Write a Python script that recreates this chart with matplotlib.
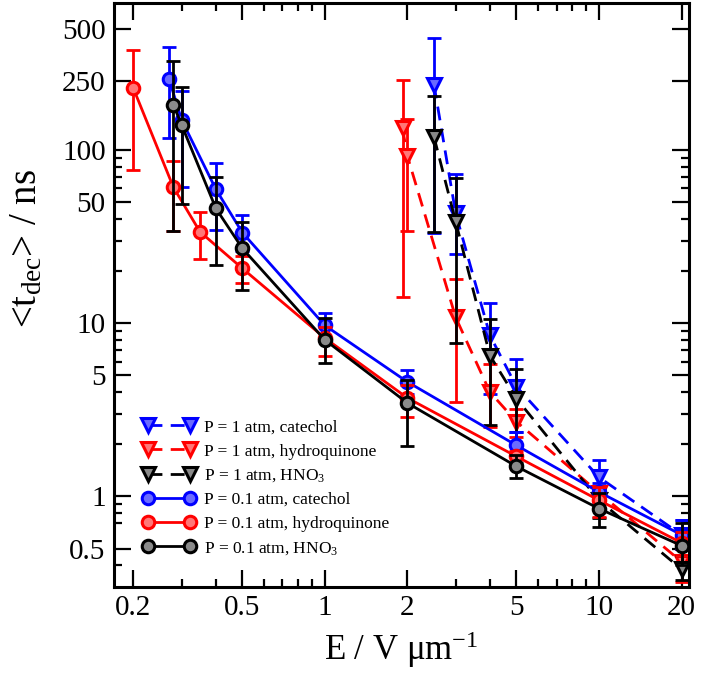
import numpy as np
import matplotlib
matplotlib.use("Agg")
import matplotlib.pyplot as plt
from matplotlib.ticker import FixedLocator, NullFormatter

plt.rcParams['font.family'] = ['Liberation Serif', 'DejaVu Serif']
plt.rcParams['mathtext.fontset'] = 'custom'
plt.rcParams['mathtext.rm'] = 'Liberation Serif'
plt.rcParams['mathtext.it'] = 'Liberation Serif:italic'

# P = 1 atm, catechol
x_cat1 = [2.5, 3.0, 4.0, 5.0, 10.0, 20.0]
y_cat1 = [238, 43, 8.5, 4.3, 1.29, 0.60]
hi_cat1 = [442, 73, 13.1, 6.25, 1.63, 0.73]
lo_cat1 = [33, 25, 3.9, 2.35, 1.05, 0.50]

# P = 1 atm, hydroquinone
x_hq1 = [1.92, 2.0, 3.0, 4.0, 5.0, 10.0, 20.0]
y_hq1 = [133, 92, 10.8, 4.0, 2.7, 1.05, 0.42]
hi_hq1 = [254, 151, 17.9, 5.85, 3.2, 1.15, 0.50]
lo_hq1 = [14.2, 34, 3.5, 2.5, 2.2, 0.85, 0.32]

# P = 1 atm, HNO3
x_hn1 = [2.5, 3.0, 4.0, 5.0, 10.0, 20.0]
y_hn1 = [119, 38.5, 6.5, 3.67, 0.95, 0.38]
hi_hn1 = [206, 68.6, 10.6, 5.47, 1.10, 0.45]
lo_hn1 = [33.4, 7.7, 2.57, 1.55, 0.75, 0.33]

# P = 0.1 atm, catechol
x_cat01 = [0.27, 0.30, 0.40, 0.50, 1.0, 2.0, 5.0, 10.0, 20.0]
y_cat01 = [256, 149, 59.3, 33.3, 9.7, 4.58, 1.97, 1.06, 0.60]
hi_cat01 = [395, 220, 83.8, 42.1, 11.4, 5.35, 2.35, 1.20, 0.73]
lo_cat01 = [117, 61, 34.5, 26, 8.2, 3.9, 1.7, 0.93, 0.50]

# P = 0.1 atm, hydroquinone
x_hq01 = [0.20, 0.28, 0.35, 0.50, 1.0, 2.0, 5.0, 10.0, 20.0]
y_hq01 = [227, 60.9, 33.7, 20.7, 8.2, 3.7, 1.7, 0.95, 0.54]
hi_hq01 = [378, 86.7, 44, 24.5, 9.5, 4.4, 1.84, 1.13, 0.62]
lo_hq01 = [76.6, 34, 23.4, 17, 6.5, 2.87, 1.45, 0.76, 0.45]

# P = 0.1 atm, HNO3
x_hn01 = [0.28, 0.30, 0.40, 0.50, 1.0, 2.0, 5.0, 10.0, 20.0]
y_hn01 = [182, 139.5, 46, 27, 8.0, 3.46, 1.49, 0.85, 0.52]
hi_hn01 = [328, 232, 70.2, 38.5, 10.7, 4.68, 1.73, 1.04, 0.70]
lo_hn01 = [34, 48.7, 21.6, 15.5, 5.9, 1.95, 1.27, 0.665, 0.40]

series = [
    (x_cat1, y_cat1, hi_cat1, lo_cat1, 'blue', 'v', '--', 'P = 1 atm, catechol'),
    (x_hq1, y_hq1, hi_hq1, lo_hq1, 'red', 'v', '--', 'P = 1 atm, hydroquinone'),
    (x_hn1, y_hn1, hi_hn1, lo_hn1, 'black', 'v', '--', 'P = 1 atm, HNO$_3$'),
    (x_cat01, y_cat01, hi_cat01, lo_cat01, 'blue', 'o', '-', 'P = 0.1 atm, catechol'),
    (x_hq01, y_hq01, hi_hq01, lo_hq01, 'red', 'o', '-', 'P = 0.1 atm, hydroquinone'),
    (x_hn01, y_hn01, hi_hn01, lo_hn01, 'black', 'o', '-', 'P = 0.1 atm, HNO$_3$'),
]
faces = {'blue': '#6b6bff', 'red': '#ff7777', 'black': '#8a8a8a'}

fig = plt.figure(figsize=(7.02, 6.84), dpi=100)
ax = fig.add_axes([114/702, 1-587/684, 575/702, 584/684])

for x, y, hi, lo, c, m, ls, lab in series:
    y = np.array(y); hi = np.array(hi); lo = np.array(lo)
    ax.errorbar(x, y, yerr=[y-lo, hi-y], fmt='none', ecolor=c, elinewidth=2,
                capsize=5, capthick=2)
    ax.plot(x, y, ls=ls, color=c, lw=2, marker=m, ms=9 if m == 'o' else 10,
            mfc=faces[c], mec=c, mew=2.2, label=lab,
            dashes=(5, 3) if ls == '--' else (None, None))

ax.set_xscale('log')
ax.set_yscale('log')
ax.set_xlim(0.170, 21.3)
ax.set_ylim(0.30, 705)

ax.xaxis.set_major_locator(FixedLocator([0.2, 0.5, 1, 2, 5, 10, 20]))
ax.xaxis.set_minor_locator(FixedLocator([0.3, 0.4, 0.6, 0.7, 0.8, 0.9, 3, 4, 6, 7, 8, 9]))
ax.set_xticklabels(['0.2', '0.5', '1', '2', '5', '10', '20'])
ax.xaxis.set_minor_formatter(NullFormatter())
ax.yaxis.set_major_locator(FixedLocator([0.5, 1, 5, 10, 50, 100, 250, 500]))
ax.yaxis.set_minor_locator(FixedLocator([0.4, 0.7, 0.8, 0.9, 2, 3, 4, 6, 7, 8, 9,
                                         20, 30, 40, 60, 70, 80, 90]))
ax.set_yticklabels(['0.5', '1', '5', '10', '50', '100', '250', '500'])
ax.yaxis.set_minor_formatter(NullFormatter())

ax.tick_params(which='both', direction='in', top=True, right=True, width=1.6)
ax.tick_params(which='major', length=12, labelsize=21, pad=6)
ax.tick_params(which='minor', length=6)
for s in ax.spines.values():
    s.set_linewidth(2.2)

ax.set_xlabel('E / V $\\mathrm{\\mu m}^{\\mathrm{-1}}$', fontsize=25, labelpad=6)
ax.set_ylabel('<t$_{\\mathrm{dec}}$> / ns', fontsize=28, labelpad=6)
ax.yaxis.set_label_coords(-0.12, 0.58)

ax.legend(loc='upper left', bbox_to_anchor=(0.05, 0.287), frameon=False,
          fontsize=12.5, numpoints=2, handlelength=3.0, handletextpad=0.5,
          labelspacing=0.45, borderpad=0, borderaxespad=0)

fig.savefig('out.png', dpi=100)
